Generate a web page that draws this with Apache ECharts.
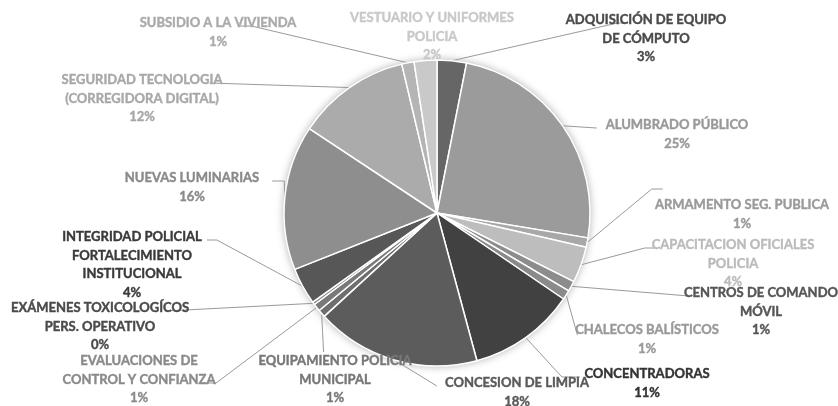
<!DOCTYPE html>
<html>
<head>
<meta charset="utf-8">
<script src="https://cdn.jsdelivr.net/npm/echarts@6/dist/echarts.min.js"></script>
<style>
html, body { margin: 0; padding: 0; background: #fff; }
#graph { width: 838px; height: 406px; }
</style>
</head>
<body>
<div id="graph"></div>
<script>
// categories, clockwise from 12 o'clock
let categories = [
	'ADQUISICIÓN DE EQUIPO\nDE CÓMPUTO',
	'ALUMBRADO PÚBLICO',
	'ARMAMENTO SEG. PUBLICA',
	'CAPACITACION OFICIALES\nPOLICIA',
	'CENTROS DE COMANDO\nMÓVIL',
	'CHALECOS BALÍSTICOS',
	'CONCENTRADORAS',
	'CONCESION DE LIMPIA',
	'EQUIPAMIENTO POLICIA\nMUNICIPAL',
	'EVALUACIONES DE\nCONTROL Y CONFIANZA',
	'EXÁMENES TOXICOLOGÍCOS\nPERS. OPERATIVO',
	'INTEGRIDAD POLICIAL\nFORTALECIMIENTO\nINSTITUCIONAL',
	'NUEVAS LUMINARIAS',
	'SEGURIDAD TECNOLOGIA\n(CORREGIDORA DIGITAL)',
	'SUBSIDIO A LA VIVIENDA',
	'VESTUARIO Y UNIFORMES\nPOLICIA'
];
// share of each slice
let shares = [3.1, 24.5, 1.0, 3.8, 1.1, 1.0, 11.3, 17.4, 0.8, 0.8, 0.3, 3.9, 15.3, 12.0, 1.3, 2.4];
// percentages as printed
let pctLabels = ['3%', '25%', '1%', '4%', '1%', '1%', '11%', '18%', '1%', '1%', '0%', '4%', '16%', '12%', '1%', '2%'];

let sliceColors = ['#666666', '#9b9b9b', '#a8a8a8', '#bdbdbd', '#8c8c8c', '#8a8a8a', '#414141', '#5c5c5c',
	'#6e6e6e', '#7a7a7a', '#8a8a8a', '#575757', '#8e8e8e', '#ababab', '#b5b5b5', '#c9c9c9'];
let textColors = ['#4a4a4a', '#999999', '#9a9a9a', '#bbbbbb', '#555555', '#999999', '#333333', '#5a5a5a',
	'#777777', '#8a8a8a', '#4a4a4a', '#3a3a3a', '#8a8a8a', '#a8a8a8', '#aaaaaa', '#c8c8c8'];

// label placement: centre x, top y, side the leader line comes in, elbow length, vertical shift of the end
let labelPos = [
	[646, 11, 'l', 10, 0],
	[677, 116, 'l', 0, 0],
	[742, 196, 'l', 11, -19],
	[733, 236, 'l', 10, 0],
	[761, 284, 'l', 0, 0],
	[647, 321, 'l', 0, 2],
	[647, 365, 'l', 18, 0],
	[517, 374, 'l', 0, 0],
	[335, 352, 'v', 0, 0],
	[139, 352, 'r', 12, 19],
	[100, 299, 'r', 0, 0],
	[132, 228, 'r', 10, 0],
	[192, 169, 'r', 12, 0],
	[142, 71, 'r', 0, 0],
	[218, 14, 'r', 12, 0],
	[432, 9, 'none', 0, 0]
];

var myChart = echarts.init(document.getElementById('graph'), null, { width: 838, height: 406 });

let pieData = categories.map(function (name, i) {
	return {
		name: name,
		value: shares[i],
		itemStyle: { color: sliceColors[i] },
		label: { color: textColors[i], textBorderColor: textColors[i] },
		labelLine: { show: labelPos[i][2] != 'none' }
	};
});

function placeLabel(params) {
	let p = labelPos[params.dataIndex];
	if (!p) return {};
	let w = params.rect.width;
	let left = p[0] - w / 2;
	let right = p[0] + w / 2;
	let out = { x: p[0], y: p[1], align: 'center', verticalAlign: 'top' };
	let pts = params.labelLinePoints;
	if (!pts || p[2] == 'none') return out;
	let start = pts[0];
	let end, elbow;
	if (p[2] == 'l') {
		end = [left - 3, p[1] + 12 + p[4]];
		elbow = [end[0] - p[3], end[1]];
	} else if (p[2] == 'r') {
		end = [right + 3, p[1] + 12 + p[4]];
		elbow = [end[0] + p[3], end[1]];
	} else {
		end = [start[0] + 2, p[1]];
		elbow = [(start[0] + end[0]) / 2, (start[1] + end[1]) / 2];
	}
	out.labelLinePoints = [start, elbow, end];
	return out;
}

var option = {
	backgroundColor: '#ffffff',
	animation: false,
	series: [
		{
			// soft shadow under the pie
			type: 'pie',
			silent: true,
			z: 1,
			center: [437, 213],
			radius: 153,
			label: { show: false },
			labelLine: { show: false },
			itemStyle: { color: '#ffffff', shadowBlur: 8, shadowColor: 'rgba(0,0,0,0.35)' },
			data: [{ value: 1, name: '' }]
		},
		{
			type: 'pie',
			z: 2,
			center: [437, 213],
			radius: 153,
			startAngle: 90,
			clockwise: true,
			avoidLabelOverlap: false,
			itemStyle: { borderColor: '#ffffff', borderWidth: 1.5 },
			label: {
				show: true,
				position: 'outside',
				fontFamily: 'Lato',
				fontWeight: 'bold',
				fontSize: 13,
				lineHeight: 18.5,
				textBorderWidth: 0.4,
				formatter: function (params) {
					return categories[params.dataIndex] + '\n' + pctLabels[params.dataIndex];
				}
			},
			labelLine: {
				show: true,
				length: 10,
				length2: 10,
				lineStyle: { color: '#9a9a9a', width: 1 }
			},
			labelLayout: placeLabel,
			emphasis: { disabled: true },
			data: pieData
		}
	]
};

myChart.setOption(option);
</script>
</body>
</html>
